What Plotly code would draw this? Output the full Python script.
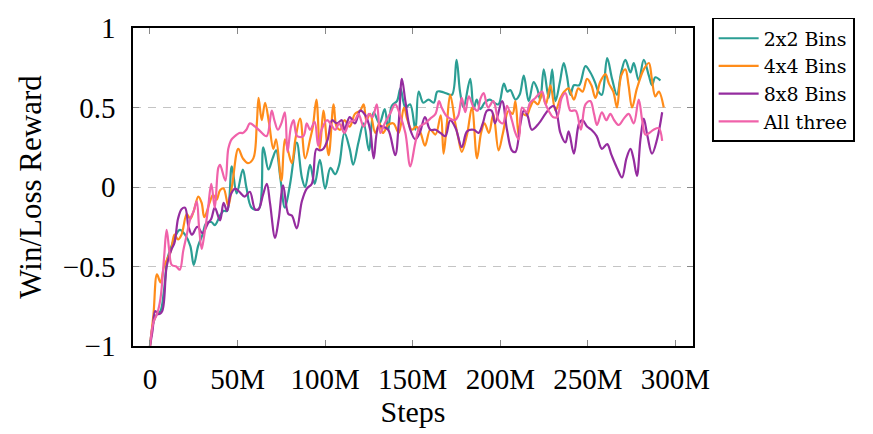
import plotly.graph_objects as go

# Steps in millions, win/loss reward
x_2x2 = [0, 2, 4, 6, 8, 10, 12, 14, 17, 20, 23, 25, 27.5, 30, 32, 35, 37, 40, 42, 44, 46.7, 49.5, 53, 55, 58, 62, 64.7, 67.6, 70, 72, 74.5, 77, 80, 83.8, 86.7, 88.6, 91.4, 94, 97, 100, 103, 105.7, 108, 111, 114, 116, 119, 122, 125, 127.7, 131, 134, 136, 138, 141, 143, 145.8, 148.5, 151.5, 153.4, 156, 159, 162, 164, 166, 169, 172.4, 175, 177, 179, 182.8, 184.8, 186.5, 188.6, 191, 194, 196.5, 199, 202, 204, 205.7, 208.6, 211, 213.4, 216.2, 219, 221, 222.8, 224.8, 227.6, 229.6, 231.5, 234, 236.2, 238, 240, 242, 245, 248.6, 251.4, 254, 256, 258, 261, 263.8, 266.6, 269, 271.4, 274.3, 276.2, 279, 281.9, 284.8, 286.6, 288.5, 291.4]
y_2x2 = [-1.0, -0.85, -0.8, -0.78, -0.65, -0.45, -0.38, -0.32, -0.27, -0.3, -0.37, -0.49, -0.37, -0.3, -0.23, -0.22, -0.24, -0.18, -0.15, -0.15, 0.13, -0.04, 0.11, 0.0, -0.13, -0.14, 0.25, 0.11, 0.18, 0.23, 0.05, -0.13, 0.02, 0.28, 0.06, 0.0, 0.14, 0.02, 0.17, -0.01, 0.12, 0.08, 0.14, 0.34, 0.24, 0.14, 0.28, 0.40, 0.23, 0.47, 0.40, 0.49, 0.36, 0.51, 0.54, 0.62, 0.50, 0.52, 0.36, 0.60, 0.53, 0.55, 0.53, 0.60, 0.60, 0.59, 0.58, 0.80, 0.60, 0.50, 0.68, 0.49, 0.55, 0.49, 0.53, 0.55, 0.53, 0.52, 0.65, 0.60, 0.61, 0.55, 0.58, 0.70, 0.54, 0.66, 0.62, 0.55, 0.74, 0.56, 0.74, 0.54, 0.66, 0.78, 0.70, 0.58, 0.64, 0.64, 0.76, 0.72, 0.66, 0.60, 0.58, 0.81, 0.68, 0.58, 0.72, 0.80, 0.72, 0.78, 0.67, 0.80, 0.70, 0.64, 0.69, 0.67]

x_4x4 = [0, 2, 4, 6, 8, 10, 12, 14, 16, 18, 21, 23, 25, 27.6, 29.5, 31, 34, 36, 38, 40, 42, 44.7, 47, 50.4, 53, 56, 59, 61, 62, 63.8, 65.7, 68, 70.4, 72, 75, 77, 79, 81, 83, 85.7, 88.6, 91.4, 93, 95, 97, 99, 102, 104.8, 106.5, 108.6, 111, 114, 117, 120, 122, 123.5, 125.7, 128.6, 131, 133, 136, 139, 142, 145, 147, 149.5, 152, 154.5, 157, 160, 163, 166, 167.6, 169.5, 171.4, 174.3, 176, 178, 181, 183.8, 186.7, 189, 191, 193.5, 196, 199, 201.5, 204.7, 207, 208.6, 210.5, 212.4, 215, 217, 219, 221.5, 223.8, 226, 228.6, 231.5, 234.3, 236.5, 239, 242, 244.5, 247, 249.5, 252, 254.3, 257, 260, 262, 264.5, 266.6, 269, 271.4, 273.2, 275.2, 278, 281.9, 284.8, 286.5, 288.5, 290.5, 293.3]
y_4x4 = [-1.0, -0.8, -0.55, -0.6, -0.5, -0.45, -0.4, -0.3, -0.33, -0.3, -0.17, -0.2, -0.15, -0.06, -0.1, -0.19, -0.1, -0.05, -0.08, -0.02, -0.01, -0.12, 0.02, 0.24, 0.18, 0.15, 0.18, 0.40, 0.56, 0.42, 0.53, 0.40, 0.24, 0.30, 0.04, 0.30, 0.22, 0.15, 0.30, 0.43, 0.18, 0.30, 0.38, 0.55, 0.24, 0.48, 0.20, 0.52, 0.38, 0.36, 0.42, 0.38, 0.46, 0.48, 0.52, 0.42, 0.46, 0.34, 0.40, 0.34, 0.39, 0.40, 0.34, 0.50, 0.42, 0.36, 0.38, 0.34, 0.26, 0.36, 0.33, 0.45, 0.21, 0.40, 0.58, 0.40, 0.31, 0.22, 0.33, 0.50, 0.18, 0.34, 0.40, 0.34, 0.46, 0.23, 0.34, 0.48, 0.46, 0.54, 0.32, 0.46, 0.45, 0.50, 0.54, 0.52, 0.59, 0.52, 0.64, 0.48, 0.56, 0.60, 0.62, 0.55, 0.62, 0.60, 0.68, 0.64, 0.56, 0.66, 0.71, 0.65, 0.60, 0.50, 0.70, 0.74, 0.64, 0.50, 0.62, 0.74, 0.78, 0.68, 0.57, 0.60, 0.50]

x_8x8 = [0, 1.5, 3, 5, 7, 9.5, 12, 14, 16, 18, 20, 22, 24, 27, 30, 33, 35, 37, 40, 42, 44, 46, 48.6, 51, 54, 57, 60, 62, 64.5, 66.7, 68.5, 71.4, 73.5, 76, 79, 81, 83.8, 86.7, 89.5, 92.4, 95, 97, 99, 101.5, 104, 106.7, 109.5, 111, 114, 117, 120, 123, 125.7, 127.7, 130.5, 133, 136, 140, 142, 143.8, 145.8, 148.6, 151.5, 154, 157, 160, 163, 165.8, 168.6, 171.4, 174.5, 178, 181, 184.8, 187.6, 190, 192.4, 195, 197, 201, 203.8, 206.6, 208.6, 211.5, 213.4, 215.5, 218, 222, 225.7, 228.6, 230.5, 232.5, 234.3, 237.2, 239, 242, 245, 247, 249.5, 252, 255, 258, 261, 263.5, 266.6, 269.5, 272, 274.3, 276, 278, 280, 281.9, 284, 286.6, 289.5, 292.4]
y_8x8 = [-1.0, -0.9, -0.78, -0.8, -0.78, -0.5, -0.4, -0.35, -0.2, -0.14, -0.13, -0.25, -0.30, -0.25, -0.29, -0.23, -0.2, -0.13, -0.21, -0.1, -0.15, -0.05, -0.01, -0.03, -0.06, -0.03, -0.14, -0.14, -0.05, 0.02, -0.1, -0.32, -0.2, 0.01, -0.17, -0.18, -0.26, -0.09, -0.01, 0.02, 0.24, 0.23, 0.24, 0.30, 0.42, 0.40, 0.42, 0.36, 0.44, 0.40, 0.48, 0.45, 0.36, 0.18, 0.38, 0.38, 0.36, 0.20, 0.40, 0.68, 0.54, 0.36, 0.30, 0.34, 0.44, 0.36, 0.36, 0.34, 0.32, 0.42, 0.37, 0.25, 0.35, 0.36, 0.34, 0.40, 0.48, 0.48, 0.40, 0.54, 0.36, 0.23, 0.22, 0.40, 0.48, 0.45, 0.36, 0.40, 0.46, 0.50, 0.51, 0.45, 0.34, 0.28, 0.35, 0.21, 0.40, 0.42, 0.38, 0.36, 0.32, 0.24, 0.27, 0.20, 0.12, 0.06, 0.18, 0.24, 0.18, 0.07, 0.30, 0.43, 0.32, 0.21, 0.30, 0.47]

x_all = [0, 2, 4, 6, 8, 9.5, 11, 12.4, 15, 17, 19, 21, 23, 25, 26.7, 28, 29.5, 31, 33, 35, 37, 39, 40, 43, 44.7, 46.6, 48.5, 51, 53, 55, 57, 60, 63, 66.6, 69.5, 71, 73, 75, 77, 78.5, 80.5, 82, 84, 87.6, 89.5, 91.4, 94, 96, 98, 101, 103, 105.7, 108, 111, 114, 117, 119, 122, 125, 127, 129.5, 131.5, 134, 137, 140, 142.5, 145.8, 148.6, 151.5, 154, 157, 160, 163, 165, 166.5, 169, 171.4, 174, 176, 178, 180, 182, 184.8, 187, 188.5, 190.5, 193, 196, 199, 201.5, 203.8, 206.6, 208.6, 210.5, 212.4, 215, 217, 220, 223.8, 225.5, 227.6, 230, 232.4, 235, 237.2, 240, 243, 246, 248.6, 251.4, 253.5, 255.2, 258, 260.5, 262.8, 265, 267.6, 270.5, 273.3, 276.2, 279, 281, 282.8, 285, 287.5, 290.5, 292.4]
y_all = [-1.0, -0.85, -0.8, -0.7, -0.45, -0.27, -0.4, -0.49, -0.5, -0.52, -0.4, -0.3, -0.2, -0.15, -0.09, -0.25, -0.39, -0.3, -0.15, 0.02, -0.13, 0.12, 0.14, 0.04, 0.24, 0.30, 0.32, 0.34, 0.34, 0.36, 0.40, 0.38, 0.35, 0.32, 0.48, 0.42, 0.36, 0.40, 0.47, 0.22, 0.38, 0.42, 0.32, 0.32, 0.40, 0.36, 0.41, 0.26, 0.36, 0.42, 0.40, 0.36, 0.40, 0.34, 0.41, 0.42, 0.46, 0.38, 0.46, 0.44, 0.52, 0.34, 0.40, 0.46, 0.52, 0.46, 0.34, 0.13, 0.28, 0.38, 0.40, 0.43, 0.46, 0.54, 0.50, 0.45, 0.43, 0.42, 0.45, 0.56, 0.47, 0.57, 0.50, 0.48, 0.55, 0.59, 0.50, 0.54, 0.42, 0.40, 0.51, 0.42, 0.34, 0.30, 0.50, 0.47, 0.53, 0.56, 0.60, 0.53, 0.48, 0.44, 0.44, 0.56, 0.59, 0.48, 0.48, 0.36, 0.52, 0.54, 0.46, 0.39, 0.47, 0.42, 0.46, 0.42, 0.39, 0.43, 0.46, 0.40, 0.55, 0.42, 0.33, 0.34, 0.36, 0.37, 0.29]

names = ["2x2 Bins", "4x4 Bins", "8x8 Bins", "All three"]
colors = ["#2B9E94", "#FF8C1A", "#952C9F", "#F062AA"]
xs = [x_2x2, x_4x4, x_8x8, x_all]
ys = [y_2x2, y_4x4, y_8x8, y_all]

x_tickvals = [0, 50, 100, 150, 200, 250, 300]
x_ticktext = ["0", "50M", "100M", "150M", "200M", "250M", "300M"]
y_tickvals = [-1, -0.5, 0, 0.5, 1]
y_ticktext = ["\u22121", "\u22120.5", "0", "0.5", "1"]

FONT = "Liberation Serif"

fig = go.Figure()
for n, c, x, y in zip(names, colors, xs, ys):
    fig.add_trace(go.Scatter(x=x, y=y, mode="lines", name=n,
                             line=dict(color=c, width=2.2, shape="spline", smoothing=1.0)))

fig.update_layout(
    width=873, height=434,
    margin=dict(l=133, r=180, t=17, b=82),
    paper_bgcolor="white", plot_bgcolor="white",
    font=dict(family=FONT, size=29, color="black"),
    showlegend=True,
    legend=dict(x=1.034, y=1.032, xanchor="left", yanchor="top",
                bordercolor="black", borderwidth=1.6,
                font=dict(family="DejaVu Serif", size=19, color="black"),
                itemwidth=40, tracegroupgap=0),
)
fig.update_xaxes(
    range=[-9.7, 310], tickvals=x_tickvals, ticktext=x_ticktext,
    showline=True, linecolor="black", linewidth=1.6, mirror="ticks",
    ticks="inside", ticklen=6, tickcolor="#888888", tickwidth=1,
    showgrid=False, zeroline=False, ticklabelstandoff=6,
    title=dict(text="Steps", font=dict(family=FONT, size=30), standoff=6),
)
fig.update_yaxes(
    range=[-1, 1], tickvals=y_tickvals, ticktext=y_ticktext,
    showline=True, linecolor="black", linewidth=1.6, mirror="ticks",
    ticks="inside", ticklen=6, tickcolor="#888888", tickwidth=1,
    showgrid=True, gridcolor="#c4c4c4", gridwidth=1, griddash="8px,7px",
    zeroline=False, ticklabelstandoff=10,
    title=dict(text="Win/Loss Reward", font=dict(family=FONT, size=31), standoff=12),
)

fig.write_html("out.html")
